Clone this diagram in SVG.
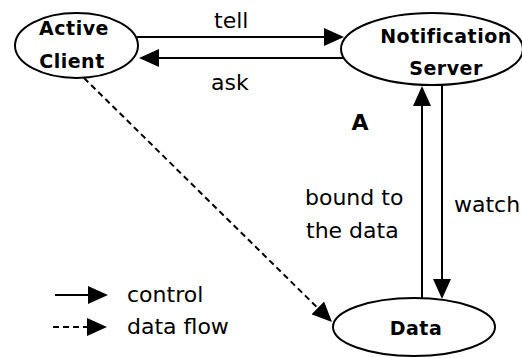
<svg xmlns="http://www.w3.org/2000/svg" width="522" height="358" viewBox="0 0 522 358">
  <style>
    .node { fill: #fff; stroke: #000; stroke-width: 2; }
    .title { font-family: "DejaVu Sans", "Liberation Sans", sans-serif; font-weight: bold; font-size: 19px; letter-spacing: 0.5px; fill: #000; text-anchor: middle; }
    .label { font-family: "DejaVu Sans", "Liberation Sans", sans-serif; font-size: 22px; fill: #000; }
    .ctrl { fill: none; stroke: #000; stroke-width: 2; marker-end: url(#head); }
    .flow { fill: none; stroke: #000; stroke-width: 2; stroke-dasharray: 6 4; marker-end: url(#head); }
  </style>
  <defs>
    <marker id="head" markerUnits="userSpaceOnUse" markerWidth="20" markerHeight="18" refX="2" refY="9" orient="auto">
      <path d="M0,0 L20,9 L0,18 z" fill="#000"/>
    </marker>
  </defs>
  <rect width="522" height="358" fill="#fff"/>

  <g id="connectors">
    <line class="ctrl" x1="137" y1="37" x2="326" y2="37"/>
    <line class="ctrl" x1="344" y1="58" x2="157" y2="58"/>
    <line class="ctrl" x1="422" y1="298" x2="422" y2="104"/>
    <line class="ctrl" x1="442" y1="85" x2="442" y2="281"/>
    <line class="flow" x1="84" y1="78" x2="319.2" y2="309.4"/>
    <text class="label" x="214" y="28">tell</text>
    <text class="label" x="211" y="90">ask</text>
    <text class="label" x="305" y="205">bound to</text>
    <text class="label" x="306" y="238">the data</text>
    <text class="label" x="454" y="212">watch</text>
  </g>

  <g id="active-client">
    <ellipse class="node" cx="76.5" cy="45.5" rx="61.5" ry="32.5"/>
    <text class="title" x="74" y="35">Active</text>
    <text class="title" x="72" y="68">Client</text>
  </g>

  <g id="notification-server">
    <ellipse class="node" cx="432" cy="49" rx="91" ry="36"/>
    <text class="title" x="446" y="43">Notification</text>
    <text class="title" x="446" y="75">Server</text>
  </g>

  <g id="data">
    <ellipse class="node" cx="414" cy="327" rx="81" ry="29"/>
    <text class="title" x="416" y="335">Data</text>
  </g>

  <g id="region-label">
    <text class="title" x="360" y="130" style="font-size:22px;letter-spacing:0">A</text>
  </g>

  <g id="legend">
    <line class="ctrl" x1="55" y1="295" x2="90" y2="295"/>
    <line class="flow" x1="53" y1="327" x2="89" y2="327"/>
    <text class="label" x="127" y="302">control</text>
    <text class="label" x="127" y="334">data flow</text>
  </g>
</svg>
